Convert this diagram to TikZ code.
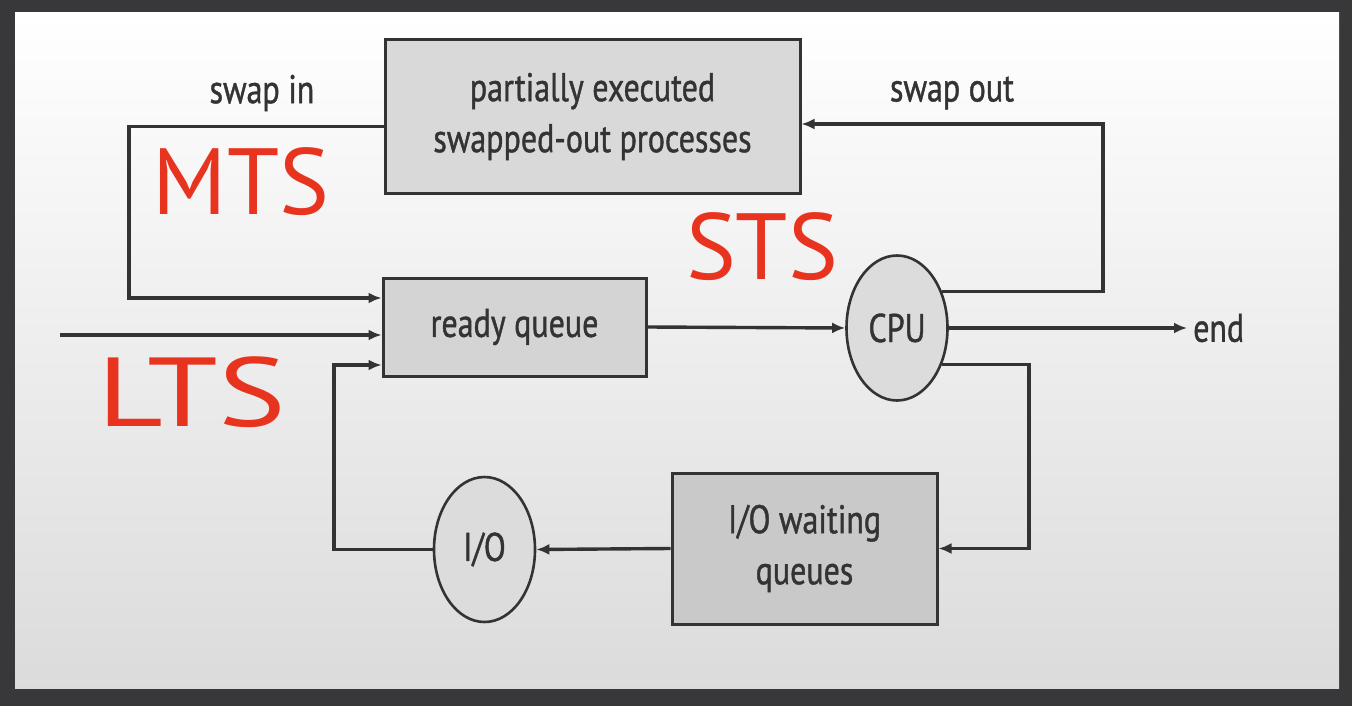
\documentclass[tikz,border=0pt]{standalone}
\usepackage{fontspec}
\setmainfont{PT Sans}
\newfontfamily\boxfont[FakeStretch=0.8,FakeBold=1]{PT Sans}
\newfontfamily\penwide[FakeStretch=1.3]{PT Sans}
\usetikzlibrary{shapes.geometric,arrows.meta}
\definecolor{frame}{HTML}{38383A}
\definecolor{ink}{HTML}{333333}
\definecolor{boxA}{HTML}{D9D9D9}
\definecolor{boxB}{HTML}{D4D4D4}
\definecolor{boxC}{HTML}{C9C9C9}
\definecolor{circ}{HTML}{DCDCDC}
\definecolor{pen}{HTML}{E8341F}
\tikzset{
  txt/.style={font=\boxfont\fontsize{40}{51}\selectfont, text=ink},
  box/.style={txt, draw=ink, line width=3pt, rectangle, inner sep=0pt, align=center},
  oval/.style={txt, draw=ink, line width=2.6pt, ellipse, fill=circ, inner sep=0pt, minimum width=101pt, minimum height=145pt},
  arr/.style={draw=ink, line width=3.4pt, -{Latex[length=13pt,width=11pt]}},
  hand/.style={text=pen, font=\fontsize{94}{94}\selectfont, inner sep=0pt},
  handwide/.style={text=pen, font=\penwide\fontsize{98}{98}\selectfont, inner sep=0pt}
}
\begin{document}
\begin{tikzpicture}[x=1pt,y=-1pt]
\useasboundingbox (0,0) rectangle (1352,706);
\fill[frame] (0,0) rectangle (1352,706);
\shade[top color=white, middle color=white, bottom color=black!14] (15,13) rectangle (1339,688);

\node[box, fill=boxA, minimum width=415pt, minimum height=153pt] (top) at (592.5,116.5) {partially executed\\swapped-out processes};
\node[box, fill=boxB, minimum width=263pt, minimum height=98pt] (rq) at (514.5,327) {ready queue};
\node[oval] (cpu) at (897,328) {CPU};
\node[oval] (io) at (484.5,549.5) {I/O};
\node[box, fill=boxC, minimum width=265pt, minimum height=151pt] (iow) at (804.5,548.5) {I/O waiting\\queues};

\node[txt] (swin) at (262,93) {swap in};
\node[txt] (swout) at (952,93) {swap out};
\node[txt, anchor=west, inner sep=6pt] (endl) at (1187,328) {end};

\coordinate (c1) at (129,298);
\coordinate (lin) at (60,335);
\coordinate (c2) at (334,365);
\coordinate (c3) at (1103,124);
\coordinate (c4) at (1029,548.5);

\draw[arr] ([yshift=-10pt]top.west) -| (c1) -- ([yshift=29pt]rq.west);
\draw[arr] (lin) -- ([yshift=-8pt]rq.west);
\draw[arr] (io.west) -| (c2) -- ([yshift=-38pt]rq.west);
\draw[arr] (rq.east) -- (cpu.west);
\draw[arr] (cpu.east) -- (endl.west);
\draw[arr] (cpu.39) -| (c3) -- ([yshift=-7.5pt]top.east);
\draw[arr] (cpu.-39) -| (c4) -- (iow.east);
\draw[arr] (iow.west) -- (io.east);

\node[hand] (mts) at (241,182) {MTS};
\node[hand] (sts) at (762,247) {STS};
\node[handwide] (lts) at (192,392) {LTS};
\end{tikzpicture}
\end{document}
